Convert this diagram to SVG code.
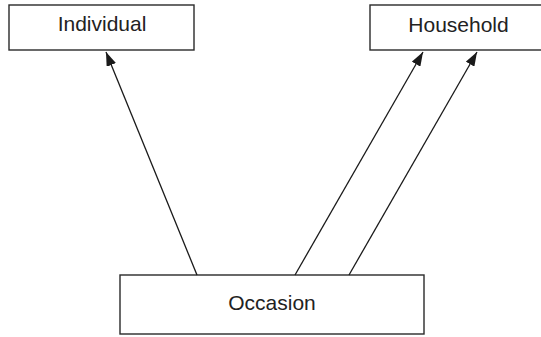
<svg xmlns="http://www.w3.org/2000/svg" width="541" height="337" viewBox="0 0 541 337">
  <defs>
    <marker id="arrow" viewBox="0 0 14 10" refX="14" refY="5" markerWidth="14" markerHeight="10" markerUnits="userSpaceOnUse" orient="auto">
      <path d="M0,0 L14,5 L0,10 Z" fill="#1a1a1a"/>
    </marker>
    <style>
      .box { fill: #ffffff; stroke: #2a2a2a; stroke-width: 1.4; }
      .label { font-family: "Liberation Sans", Arial, sans-serif; font-size: 21px; fill: #222222; text-anchor: middle; }
      .edge { stroke: #1a1a1a; stroke-width: 1.3; fill: none; marker-end: url(#arrow); }
    </style>
  </defs>
  <rect width="541" height="337" fill="#ffffff"/>

  <g id="individual">
    <rect class="box" x="9" y="5" width="185" height="45"/>
    <text class="label" x="102" y="31">Individual</text>
  </g>

  <g id="household">
    <rect class="box" x="370" y="5" width="180" height="45"/>
    <text class="label" x="458.5" y="31.5">Household</text>
  </g>

  <g id="occasion">
    <rect class="box" x="120" y="275" width="304" height="59"/>
    <text class="label" x="272" y="310">Occasion</text>
  </g>

  <g id="connectors">
    <line class="edge" x1="197" y1="275" x2="106" y2="52"/>
    <line class="edge" x1="295" y1="275" x2="423" y2="52"/>
    <line class="edge" x1="349" y1="275" x2="477" y2="52"/>
  </g>
</svg>
